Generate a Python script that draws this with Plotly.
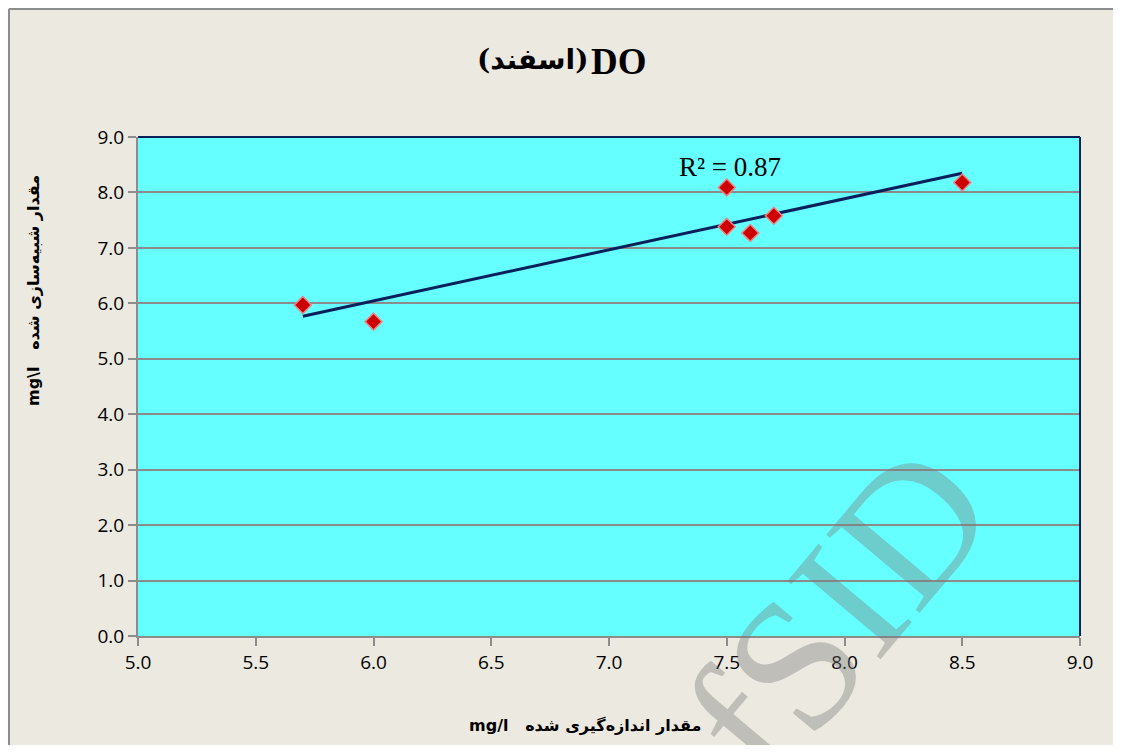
import numpy as np
import plotly.graph_objects as go

# Data
measured = [5.7, 6.0, 7.5, 7.5, 7.6, 7.7, 8.5]
simulated = [5.97, 5.67, 8.09, 7.38, 7.27, 7.58, 8.18]
x_ticks = [5.0, 5.5, 6.0, 6.5, 7.0, 7.5, 8.0, 8.5, 9.0]
y_ticks = [0.0, 1.0, 2.0, 3.0, 4.0, 5.0, 6.0, 7.0, 8.0, 9.0]

title_latin = "DO"
title_persian = "(اسفند)"
x_title = "mg/l   مقدار اندازه‌گیری شده"
y_title = "mg\\l   مقدار شبیه‌سازی شده"
r2_label = "R² = 0.87"

# Linear trendline
slope, intercept = np.polyfit(measured, simulated, 1)
tx = [min(measured), max(measured)]
ty = [slope * v + intercept for v in tx]

OFF = 8  # page body margin
W, H = 1121 - OFF, 753 - 2 * OFF
L, R, T = 138 - OFF, 41, 137 - OFF
B = H + OFF - 636
PW, PH = W - L - R, H - T - B

def px(xp):
    return (xp - OFF - L) / PW

def py(yp):
    return (H - B - (yp - OFF)) / PH

fig = go.Figure()
fig.add_trace(go.Scatter(
    x=tx, y=ty, mode="lines",
    line=dict(color="#0A1F5C", width=3),
    hoverinfo="skip", showlegend=False))
fig.add_trace(go.Scatter(
    x=measured, y=simulated, mode="markers",
    marker=dict(symbol="diamond", size=13, color="#CC0000",
                line=dict(color="#F08080", width=1.5)),
    showlegend=False))

fig.add_annotation(
    x=7.29, y=8.45, xref="x", yref="y", text=r2_label, showarrow=False,
    xanchor="left", yanchor="middle",
    font=dict(family="Liberation Serif", size=27, color="#000000"))

# Title (two parts)
fig.add_annotation(
    x=px(589), y=py(62), xref="paper", yref="paper",
    text="<b>" + title_latin + "</b>", showarrow=False,
    xanchor="left", yanchor="middle",
    font=dict(family="Liberation Serif", size=37, color="#000000"))
fig.add_annotation(
    x=px(590), y=py(60), xref="paper", yref="paper",
    text="<b>" + title_persian + "</b>", showarrow=False,
    xanchor="right", yanchor="middle",
    font=dict(family="DejaVu Serif, DejaVu Sans", size=28, color="#000000"))

# Axis titles
fig.add_annotation(
    x=px(585), y=py(725), xref="paper", yref="paper",
    text="<b>" + x_title + "</b>", showarrow=False,
    xanchor="center", yanchor="middle",
    font=dict(family="DejaVu Sans", size=16, color="#000000"))
fig.add_annotation(
    x=px(33), y=py(291), xref="paper", yref="paper",
    text="<b>" + y_title + "</b>", showarrow=False, textangle=-90,
    xanchor="center", yanchor="middle",
    font=dict(family="DejaVu Sans", size=16, color="#000000"))

# Watermark
fig.add_annotation(
    x=px(838), y=py(612),
    xref="paper", yref="paper", text="fSID", showarrow=False,
    textangle=-50, xanchor="center", yanchor="middle",
    font=dict(family="Liberation Serif", size=186, color="rgba(120,120,120,0.38)"))

fig.update_layout(
    width=W, height=H,
    margin=dict(l=L, r=R, t=T, b=B),
    paper_bgcolor="#ECE9E0",
    plot_bgcolor="#66FFFF",
    xaxis=dict(range=[5.0, 9.0], tickvals=x_ticks,
               ticktext=[f"{v:.1f}" for v in x_ticks],
               showgrid=False, zeroline=False,
               showline=True, linecolor="#8C8C8C", linewidth=2,
               ticks="outside", ticklen=8, tickcolor="#8C8C8C", tickwidth=2,
               tickfont=dict(family="Open Sans", size=19, color="#000000")),
    yaxis=dict(range=[0.0, 9.0], tickvals=y_ticks,
               ticktext=[f"{v:.1f}" for v in y_ticks],
               showgrid=True, gridcolor="#8C8C8C", gridwidth=2,
               zeroline=False,
               showline=True, linecolor="#8C8C8C", linewidth=2,
               ticks="outside", ticklen=8, tickcolor="#8C8C8C", tickwidth=2,
               tickfont=dict(family="Open Sans", size=19, color="#000000")),
    shapes=[
        dict(type="line", xref="paper", yref="paper", x0=0, x1=1, y0=1, y1=1,
             line=dict(color="#0A1F5C", width=2), layer="above"),
        dict(type="line", xref="paper", yref="paper", x0=1, x1=1, y0=0, y1=1,
             line=dict(color="#0A1F5C", width=2), layer="above"),
        dict(type="line", xref="paper", yref="paper",
             x0=px(9), x1=px(1200), y0=py(9), y1=py(9),
             line=dict(color="#8C8C8C", width=2), layer="below"),
        dict(type="line", xref="paper", yref="paper",
             x0=px(9), x1=px(9), y0=py(9), y1=py(800),
             line=dict(color="#8C8C8C", width=2), layer="below"),
    ],
)

fig.write_html("out.html")
